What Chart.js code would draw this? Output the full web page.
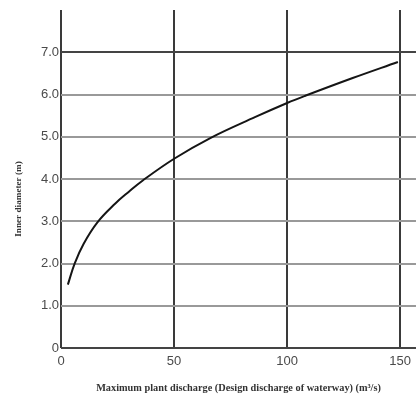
<!DOCTYPE html>
<html>
<head>
<meta charset="utf-8">
<script src="https://cdn.jsdelivr.net/npm/chart.js@4"></script>
<style>
html,body{margin:0;padding:0;background:#fff;}
#wrap{width:417px;height:405px;}
</style>
</head>
<body>
<div id="wrap"><canvas id="c" width="417" height="405"></canvas></div>
<script>
const discharge = [3, 6, 10, 16, 24, 30, 36, 50, 66, 86, 100, 108, 129, 149];
const diameter  = [1.5, 2.0, 2.47, 2.97, 3.42, 3.7, 3.96, 4.48, 4.97, 5.47, 5.8, 5.97, 6.39, 6.77];
const xTicks = [0, 50, 100, 150];
const yTicks = [0, 1, 2, 3, 4, 5, 6, 7];
const yTickLabels = ["0", "1.0", "2.0", "3.0", "4.0", "5.0", "6.0", "7.0"];
const yTitle = 'Inner diameter (m)';

const points = discharge.map((x, i) => ({x: x, y: diameter[i]}));

const yTitlePlugin = {
  id: 'yTitle',
  afterDraw(chart) {
    const c = chart.ctx;
    c.save();
    c.translate(19, 199);
    c.rotate(-Math.PI / 2);
    c.font = 'bold 9.2px "Liberation Serif"';
    c.fillStyle = '#333';
    c.textAlign = 'center';
    c.textBaseline = 'middle';
    c.fillText(yTitle, 0, 0);
    c.restore();
  }
};

new Chart(document.getElementById('c'), {
  type: 'line',
  data: {
    datasets: [{
      data: points,
      borderColor: '#151515',
      borderWidth: 2,
      pointRadius: 0,
      tension: 0.4,
      fill: false
    }]
  },
  options: {
    responsive: false,
    animation: false,
    layout: {padding: {top: 10, left: 39, right: 0, bottom: 10.5}},
    plugins: {legend: {display: false}, tooltip: {enabled: false}},
    scales: {
      x: {
        type: 'linear',
        min: 0,
        max: 157,
        afterBuildTicks: (axis) => { axis.ticks = xTicks.map(v => ({value: v})); },
        grid: {color: '#3a3a3a', lineWidth: 2, drawTicks: false},
        border: {display: false},
        ticks: {
          padding: 6,
          color: '#4a4a4a',
          font: {family: 'Liberation Sans', size: 13},
          maxRotation: 0
        },
        title: {
          display: true,
          text: 'Maximum plant discharge (Design discharge of waterway) (m\u00B3/s)',
          color: '#333',
          font: {family: 'Liberation Serif', size: 10.3, weight: 'bold'},
          padding: {top: 6.5, bottom: 0}
        }
      },
      y: {
        type: 'linear',
        min: 0,
        max: 8,
        afterBuildTicks: (axis) => { axis.ticks = yTicks.map(v => ({value: v})); },
        grid: {
          color: (ctx) => (ctx.tick && (ctx.tick.value === 0 || ctx.tick.value === 7)) ? '#444' : '#999',
          lineWidth: 2,
          drawTicks: false
        },
        border: {display: false},
        ticks: {
          padding: 2,
          color: '#4a4a4a',
          font: {family: 'Liberation Sans', size: 13},
          callback: (v) => { const i = yTicks.indexOf(v); return i >= 0 ? yTickLabels[i] : ''; }
        },
        title: {display: false}
      }
    }
  },
  plugins: [yTitlePlugin]
});
</script>
</body>
</html>
